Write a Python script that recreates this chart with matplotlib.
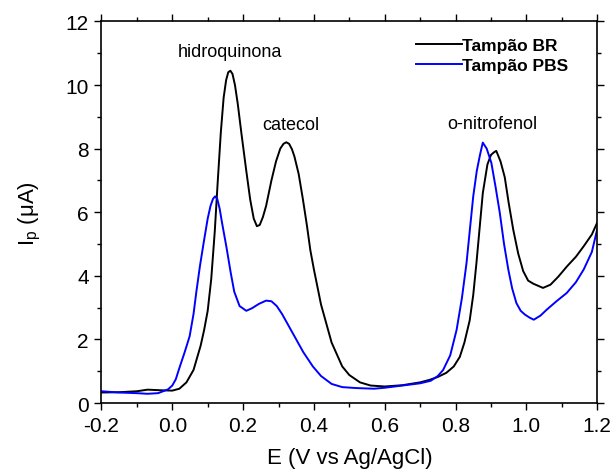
import matplotlib
matplotlib.use("Agg")
import matplotlib.pyplot as plt
from matplotlib.ticker import MultipleLocator

plt.rcParams['font.family'] = ['Liberation Sans', 'DejaVu Sans']

# Tampão BR (black)
E_br = [-0.2, -0.15, -0.1, -0.07, -0.03, 0.0, 0.02, 0.04, 0.06, 0.08, 0.09, 0.1,
        0.11, 0.12, 0.128, 0.137, 0.145, 0.152, 0.158, 0.164, 0.17, 0.177, 0.185,
        0.195, 0.209, 0.22, 0.23, 0.239, 0.247,
        0.256, 0.265, 0.28, 0.293, 0.305, 0.314, 0.322, 0.33, 0.338, 0.345, 0.357,
        0.369, 0.38, 0.39, 0.4, 0.42, 0.45, 0.48, 0.5, 0.53, 0.56, 0.6, 0.65, 0.7,
        0.727, 0.75, 0.774, 0.795, 0.812, 0.825, 0.84, 0.85, 0.859, 0.868, 0.877,
        0.89, 0.9, 0.908, 0.915, 0.927, 0.939, 0.95, 0.963, 0.977, 0.991, 1.005,
        1.02, 1.047, 1.068, 1.09, 1.115, 1.14, 1.162, 1.185, 1.2]
I_br = [0.33, 0.34, 0.37, 0.42, 0.40, 0.39, 0.45, 0.65, 1.04, 1.8, 2.3, 2.9,
        3.9, 5.4, 6.9, 8.5, 9.6, 10.15, 10.4, 10.45, 10.35, 10.0, 9.4,
        8.5, 7.3, 6.4, 5.8, 5.56, 5.6,
        5.85, 6.2, 7.0, 7.6, 8.0, 8.15, 8.2, 8.15, 7.98, 7.75, 7.2,
        6.4, 5.6, 4.8, 4.2, 3.1, 1.9, 1.15, 0.88, 0.65, 0.55, 0.52, 0.56, 0.65,
        0.73, 0.82, 0.95, 1.15, 1.45, 1.9, 2.6, 3.4, 4.4, 5.5, 6.6,
        7.5, 7.8, 7.88, 7.93, 7.6, 7.1, 6.3, 5.45, 4.7, 4.15, 3.85,
        3.75, 3.62, 3.72, 3.97, 4.3, 4.6, 4.93, 5.3, 5.67]

# Tampão PBS (blue)
E_pbs = [-0.2, -0.15, -0.1, -0.07, -0.04, -0.012, 0.0, 0.01, 0.02, 0.035, 0.049,
         0.06, 0.068, 0.078, 0.088, 0.1, 0.108, 0.115, 0.121, 0.127, 0.134, 0.14,
         0.153, 0.165, 0.175, 0.19, 0.209, 0.225, 0.245, 0.265, 0.28, 0.295, 0.31,
         0.33, 0.35, 0.37, 0.397, 0.42, 0.45, 0.48, 0.52, 0.57, 0.6, 0.65, 0.7,
         0.73, 0.75, 0.765, 0.785, 0.803, 0.818, 0.831, 0.84, 0.85, 0.86, 0.869,
         0.877, 0.888, 0.901, 0.913, 0.925, 0.937, 0.949, 0.96, 0.972, 0.984,
         0.996, 1.01, 1.021, 1.04, 1.057, 1.085, 1.114, 1.14, 1.162, 1.185, 1.2]
I_pbs = [0.37, 0.33, 0.31, 0.29, 0.31, 0.43, 0.55, 0.75, 1.1, 1.6, 2.1,
         2.8, 3.5, 4.3, 5.0, 5.8, 6.2, 6.42, 6.5, 6.42, 6.1, 5.7,
         4.9, 4.1, 3.5, 3.05, 2.9, 2.98, 3.12, 3.22, 3.2, 3.05, 2.8,
         2.4, 2.0, 1.6, 1.15, 0.85, 0.6, 0.5, 0.47, 0.45, 0.48, 0.55, 0.62,
         0.7, 0.85, 1.04, 1.5, 2.3, 3.3, 4.4, 5.4, 6.5, 7.3, 7.8,
         8.19, 8.0, 7.56, 6.8, 5.98, 5.0, 4.2, 3.6, 3.14, 2.9,
         2.78, 2.68, 2.62, 2.75, 2.93, 3.2, 3.46, 3.8, 4.2, 4.75, 5.46]

labels = ["hidroquinona", "catecol", "o-nitrofenol"]
label_pos = [(0.162, 11.05), (0.334, 8.75), (0.905, 8.78)]

fig = plt.figure(figsize=(6.15, 4.77), dpi=100)
ax = fig.add_axes([0.165, 0.153, 0.806, 0.8])

ax.plot(E_br, I_br, color='black', lw=1.4, label='Tampão BR')
ax.plot(E_pbs, I_pbs, color='#0000ff', lw=1.4, label='Tampão PBS')

for txt, (x, y) in zip(labels, label_pos):
    ax.text(x, y, txt, ha='center', va='center', fontsize=13)

ax.set_xlim(-0.2, 1.2)
ax.set_ylim(0, 12)
ax.xaxis.set_major_locator(MultipleLocator(0.2))
ax.xaxis.set_minor_locator(MultipleLocator(0.1))
ax.yaxis.set_major_locator(MultipleLocator(2))
ax.yaxis.set_minor_locator(MultipleLocator(1))
ax.set_xticklabels([f"{v:.1f}" for v in ax.get_xticks()])
ax.tick_params(which='both', direction='out', top=True, right=True,
               labeltop=False, labelright=False, width=1.0)
ax.tick_params(which='major', length=5, labelsize=15, pad=4)
ax.tick_params(which='minor', length=3)
for s in ax.spines.values():
    s.set_linewidth(1.2)

ax.set_xlabel("E (V vs Ag/AgCl)", fontsize=16, labelpad=9)
ax.set_ylabel(r"I$_\mathregular{p}$ (μA)", fontsize=16, labelpad=16)

leg = ax.legend(loc='upper right', frameon=False,
                prop={'weight': 'bold', 'size': 12.5}, handlelength=2.65,
                handletextpad=0.0, labelspacing=0.3, borderaxespad=0.0,
                bbox_to_anchor=(0.956, 0.975))

fig.savefig("out.png", dpi=100)
